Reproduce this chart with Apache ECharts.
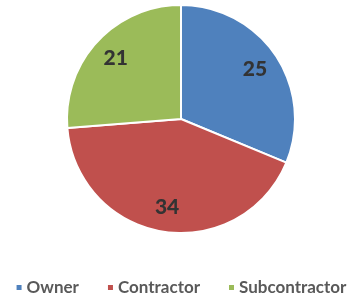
<!DOCTYPE html>
<html><head><meta charset="utf-8">
<script src="https://cdn.jsdelivr.net/npm/echarts@6/dist/echarts.min.js"></script>
<style>html,body{margin:0;padding:0;background:#fff}#c{width:361px;height:297px}</style>
</head><body><div id="c"></div>
<script>
const categories = ['Owner', 'Contractor', 'Subcontractor'];
const values = [25, 34, 21];
const colors = ['#4F81BD', '#C0504D', '#9BBB59'];

const data = categories.map((n, i) => ({ name: n, value: values[i], itemStyle: { color: colors[i] } }));
const chart = echarts.init(document.getElementById('c'));
chart.setOption({
  animation: false,
  legend: {
    top: 274, left: 'center',
    itemWidth: 7, itemHeight: 7, itemGap: 27,
    icon: 'rect',
    textStyle: { fontFamily: 'Lato', fontWeight: 'bold', fontSize: 17, color: '#595959', padding: [0, 0, 0, -1] },
    data: categories
  },
  series: [{
    type: 'pie', center: [181, 119], radius: [0, 114], startAngle: 90, clockwise: true,
    itemStyle: { borderColor: '#fff', borderWidth: 2 },
    label: { show: false }, labelLine: { show: false },
    data: data
  }, {
    type: 'pie', center: [181, 119], radius: [58, 114], startAngle: 90, clockwise: true,
    silent: true,
    itemStyle: { color: 'rgba(0,0,0,0)', borderWidth: 0 },
    label: { show: true, position: 'inside', formatter: '{c}', fontFamily: 'Lato', fontWeight: 900, fontSize: 21, color: '#333333' },
    labelLine: { show: false },
    data: categories.map((n, i) => ({ name: n, value: values[i], itemStyle: { color: 'rgba(0,0,0,0)' } }))
  }]
});
</script></body></html>
